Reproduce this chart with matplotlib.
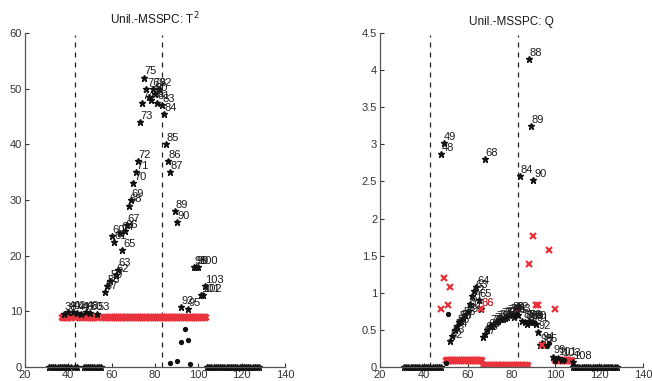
import matplotlib
matplotlib.use("Agg")
import matplotlib.pyplot as plt
import numpy as np

plt.rcParams['font.family'] = ['Liberation Sans', 'DejaVu Sans']

# ---------------- Left panel: T^2 ----------------
t2_titles = "Unil.-MSSPC: T$^2$"
t2_lab_x = [38, 40, 42, 44, 46, 48, 50, 53, 57, 58, 59, 60, 61, 62, 63, 64, 65, 66, 67,
            68, 69, 70, 71, 72, 73, 74, 75, 76, 77, 78, 79, 80, 81, 82, 83, 84, 85, 86,
            87, 89, 90, 92, 95, 98, 99, 100, 101, 102, 103]
t2_lab_y = [9.6, 9.8, 9.9, 9.7, 9.6, 9.8, 9.7, 9.6, 13.5, 14.5, 15.5, 23.5, 22.5, 16.5,
            17.5, 24.0, 21.0, 24.5, 25.5, 29.0, 30.0, 33.0, 35.0, 37.0, 44.0, 47.5, 52.0,
            50.0, 48.5, 48.0, 50.0, 49.0, 47.5, 50.0, 47.0, 45.5, 40.0, 37.0, 35.0, 28.0,
            26.0, 10.8, 10.4, 18.0, 18.0, 18.0, 13.0, 13.0, 14.5]
t2_low_x = [87, 90, 92, 94, 95, 96]
t2_low_y = [0.8, 1.0, 4.5, 6.8, 4.8, 0.5]
t2_zero_x = list(range(31, 42)) + [43, 44] + list(range(47, 56)) + list(range(104, 129))
t2_red_x = [37, 38, 39, 40, 41, 43, 45, 46, 48, 49, 50, 51, 52, 53] + list(range(56, 104))
t2_red_level = 9.0

# ---------------- Right panel: Q ----------------
q_title = "Unil.-MSSPC: Q"
q_lab_x = [48, 49, 68, 84, 88, 89, 90,
           52, 53, 54, 55, 56, 57, 58, 59, 60, 61, 62, 63, 64, 65, 66,
           67, 68, 69, 70, 71, 72, 73, 74, 75, 76, 77, 78, 79, 80, 81, 82, 83,
           85, 86, 87, 88, 89, 90, 91, 92, 93, 94, 95, 99, 101, 103, 108]
q_lab_y = [2.87, 3.02, 2.80, 2.57, 4.15, 3.25, 2.52,
           0.35, 0.42, 0.50, 0.55, 0.60, 0.62, 0.66, 0.70, 0.75, 0.85, 0.95, 1.02, 1.08, 0.90, 0.78,
           0.40, 0.45, 0.50, 0.55, 0.55, 0.58, 0.60, 0.62, 0.64, 0.65, 0.66, 0.68, 0.70, 0.72, 0.68,
           0.72, 0.70, 0.62, 0.60, 0.58, 0.62, 0.60, 0.60, 0.58, 0.47, 0.30, 0.32, 0.30, 0.14,
           0.12, 0.10, 0.07]
q_low_x = [51, 50, 96, 97, 100, 104]
q_low_y = [0.72, 0.05, 0.28, 0.32, 0.08, 0.10]
q_zero_x = list(range(31, 49)) + list(range(108, 129))
q_red_x = [48, 49, 51, 52, 66, 83, 88, 90, 91, 92, 94, 97, 100]
q_red_y = [0.78, 1.20, 0.84, 1.08, 0.78, 0.78, 1.39, 1.77, 0.84, 0.84, 0.30, 1.57, 0.78]
q_red_labels = ["", "", "", "", "86", "", "", "", "", "", "", "", ""]
q_band1_x = list(range(50, 67))
q_band1_y = 0.10
q_band2_x = list(range(67, 88))
q_band2_y = 0.03
q_band3_x = list(range(100, 108))
q_band3_y = 0.09

dashed_x = [43, 83]
x_ticks = [20, 40, 60, 80, 100, 120, 140]
t2_yticks = [0, 10, 20, 30, 40, 50, 60]
q_yticks = [0, 0.5, 1, 1.5, 2, 2.5, 3, 3.5, 4, 4.5]
q_yticklabels = ["0", "0.5", "1", "1.5", "2", "2.5", "3", "3.5", "4", "4.5"]

W, H = 652, 381
fig = plt.figure(figsize=(W / 100, H / 100), dpi=100)
ax1 = fig.add_axes([25 / W, 1 - 367 / H, 260 / W, 334 / H])
ax2 = fig.add_axes([380 / W, 1 - 367 / H, 263 / W, 334 / H])

RED = "#e8323c"
TXT = "#1a1a1a"


def style(ax, ymax, yticks, ylabels=None):
    ax.set_xlim(20, 140)
    ax.set_ylim(0, ymax)
    ax.set_xticks(x_ticks)
    ax.set_yticks(yticks)
    if ylabels is not None:
        ax.set_yticklabels(ylabels)
    ax.spines['top'].set_visible(False)
    ax.spines['right'].set_visible(False)
    for s in ['left', 'bottom']:
        ax.spines[s].set_color('#555555')
        ax.spines[s].set_linewidth(0.9)
    ax.tick_params(direction='in', length=3, labelsize=8, colors='#333333', pad=2)
    for x in dashed_x:
        ax.axvline(x, color='#222222', ls=(0, (4, 4)), lw=0.9, ymax=0.995)


# Left
style(ax1, 60, t2_yticks)
ax1.set_title(t2_titles, fontsize=8.5, color=TXT, pad=6)
ax1.plot(t2_red_x, [t2_red_level] * len(t2_red_x), ls='none', marker='x',
         color=RED, ms=5, mew=2.5, clip_on=False)
ax1.plot(t2_zero_x, [0] * len(t2_zero_x), ls='none', marker='*', color='#111111',
         ms=4.5, clip_on=False)
ax1.plot(t2_low_x, t2_low_y, ls='none', marker='o', color='#111111', ms=2.8)
ax1.plot(t2_lab_x, t2_lab_y, ls='none', marker='*', color='#111111', ms=5)
for x, y in zip(t2_lab_x, t2_lab_y):
    ax1.text(x + 0.3, y + 0.2, str(x), fontsize=8, color=TXT, ha='left', va='bottom')

# Right
style(ax2, 4.5, q_yticks, q_yticklabels)
ax2.set_title(q_title, fontsize=8.5, color=TXT, pad=6)
ax2.plot(q_band1_x, [q_band1_y] * len(q_band1_x), ls='none', marker='x', color=RED,
         ms=4.5, mew=2.5)
ax2.plot(q_band2_x, [q_band2_y] * len(q_band2_x), ls='none', marker='x', color=RED,
         ms=4.5, mew=2.5)
ax2.plot(q_band3_x, [q_band3_y] * len(q_band3_x), ls='none', marker='x', color=RED,
         ms=4.5, mew=2.5)
ax2.plot(q_zero_x, [0] * len(q_zero_x), ls='none', marker='*', color='#111111',
         ms=4.5, clip_on=False)
ax2.plot(q_low_x, q_low_y, ls='none', marker='o', color='#111111', ms=2.8)
ax2.plot(q_lab_x, q_lab_y, ls='none', marker='*', color='#111111', ms=5)
for x, y in zip(q_lab_x, q_lab_y):
    ax2.text(x + 0.3, y + 0.015, str(x), fontsize=8, color=TXT, ha='left', va='bottom')
ax2.plot(q_red_x, q_red_y, ls='none', marker='x', color=RED, ms=4.5, mew=1.6)
for x, y, l in zip(q_red_x, q_red_y, q_red_labels):
    if l:
        ax2.text(x + 0.3, y + 0.015, l, fontsize=8, color=RED, ha='left', va='bottom')

fig.savefig("out.png", dpi=100)
